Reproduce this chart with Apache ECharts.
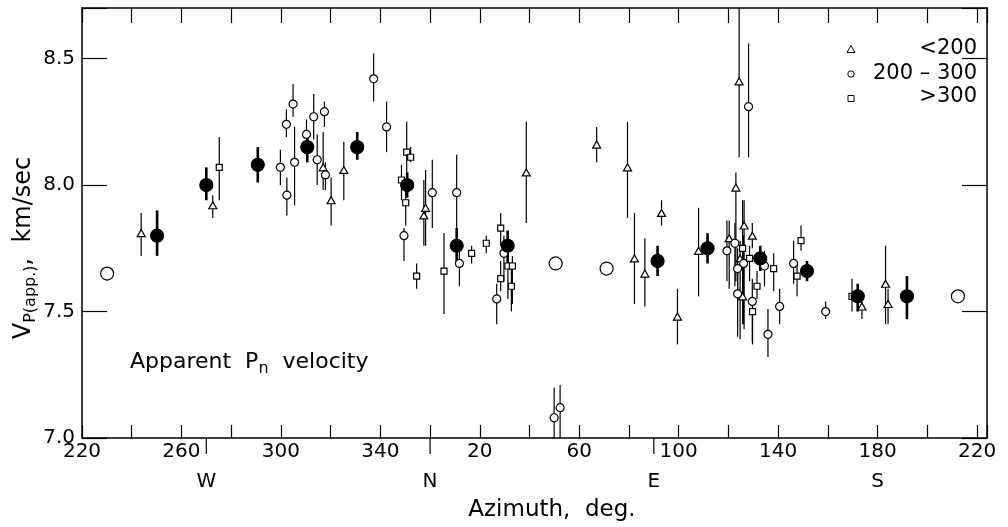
<!DOCTYPE html>
<html><head><meta charset="utf-8">
<script src="https://cdn.jsdelivr.net/npm/echarts@6/dist/echarts.min.js"></script>
<style>html,body{margin:0;padding:0;background:#fff}#c{width:1008px;height:527px}</style>
</head><body><div id="c"></div>
<script>
// ---- tick labels ----
const xLabelValues = [220, 260, 300, 340, 380, 420, 460, 500, 540, 580];
const xTickLabels = ['220', '260', '300', '340', '20', '60', '100', '140', '180', '220'];
const yTickValues = [7.0, 7.5, 8.0, 8.5];
const yTickLabels = ['7.0', '7.5', '8.0', '8.5'];
const compassAz = [270, 0, 90, 180];
const compassLabels = ['W', 'N', 'E', 'S'];
const legendLabels = ['<200', '200 – 300', '>300'];

// ---- data: [azimuth deg, velocity, low, high] ----
const averages = [
  [250.2, 7.80, 7.72, 7.90], [270.0, 8.00, 7.94, 8.07], [290.7, 8.08, 8.01, 8.15],
  [310.6, 8.15, 8.09, 8.21], [330.7, 8.15, 8.10, 8.21], [350.8, 8.00, 7.95, 8.05],
  [10.7, 7.76, 7.69, 7.83], [31.2, 7.76, 7.68, 7.82], [91.5, 7.70, 7.64, 7.76],
  [111.6, 7.75, 7.69, 7.81], [132.8, 7.71, 7.66, 7.76], [151.6, 7.66, 7.62, 7.70],
  [172.0, 7.56, 7.50, 7.61], [191.8, 7.56, 7.47, 7.64]
];
const singleAverages = [ [230.1, 7.65], [50.5, 7.69], [71.0, 7.67], [212.3, 7.56] ];
const distLt200 = [
  [243.8, 7.81, 7.72, 7.89], [272.6, 7.92, 7.87, 7.96], [317.0, 8.07, 7.98, 8.21],
  [320.2, 7.94, 7.84, 8.03], [325.3, 8.06, 7.94, 8.17], [358.2, 7.91, 7.76, 8.06],
  [357.5, 7.88, 7.76, 8.02], [38.7, 8.05, 7.85, 8.25], [67.0, 8.16, 8.09, 8.23],
  [79.4, 8.07, 7.87, 8.25], [82.2, 7.71, 7.53, 7.89], [86.4, 7.65, 7.52, 7.79],
  [93.1, 7.89, 7.84, 7.94], [99.5, 7.48, 7.37, 7.59], [108.0, 7.74, 7.56, 7.91],
  [124.3, 8.41, 8.11, 8.70], [123.0, 7.99, 7.62, 8.05], [120.3, 7.79, 7.59, 7.86],
  [126.3, 7.84, 7.43, 7.94], [129.6, 7.80, 7.75, 7.85], [124.7, 7.71, 7.39, 7.78],
  [125.7, 7.56, 7.45, 7.60], [173.7, 7.52, 7.47, 7.54], [183.2, 7.61, 7.45, 7.76],
  [184.2, 7.53, 7.45, 7.59]
];
const dist200to300 = [
  [299.8, 8.07, 8.00, 8.14], [302.2, 8.24, 8.19, 8.30], [302.4, 7.96, 7.88, 8.03],
  [304.9, 8.32, 8.27, 8.40], [305.5, 8.09, 7.92, 8.23], [310.3, 8.20, 8.15, 8.26],
  [313.2, 8.27, 8.18, 8.36], [317.5, 8.29, 8.23, 8.33], [314.6, 8.10, 8.00, 8.20],
  [317.9, 8.04, 7.98, 8.09], [337.3, 8.42, 8.33, 8.52], [342.5, 8.23, 8.13, 8.33],
  [349.5, 7.80, 7.70, 7.83], [0.9, 7.97, 7.83, 8.10], [10.7, 7.97, 7.83, 8.12],
  [11.8, 7.69, 7.60, 7.78], [26.8, 7.55, 7.45, 7.61], [29.7, 7.73, 7.62, 7.80],
  [49.9, 7.08, 7.00, 7.20], [52.3, 7.12, 7.00, 7.21], [128.1, 8.31, 8.11, 8.56],
  [119.4, 7.74, 7.62, 7.86], [122.6, 7.77, 7.60, 7.85], [126.1, 7.69, 7.45, 7.80],
  [123.7, 7.67, 7.55, 7.75], [134.5, 7.68, 7.60, 7.74], [123.7, 7.57, 7.40, 7.68],
  [129.6, 7.54, 7.38, 7.63], [140.6, 7.52, 7.45, 7.59], [135.9, 7.41, 7.32, 7.51],
  [146.2, 7.69, 7.61, 7.78], [159.1, 7.50, 7.47, 7.54]
];
const distGt300 = [
  [275.2, 8.07, 7.94, 8.19], [350.6, 8.13, 8.02, 8.25], [352.2, 8.11, 8.09, 8.15],
  [348.5, 8.02, 7.94, 8.08], [350.2, 7.93, 7.84, 7.98], [354.6, 7.64, 7.59, 7.69],
  [5.6, 7.66, 7.49, 7.81], [16.7, 7.73, 7.69, 7.76], [22.6, 7.77, 7.73, 7.80],
  [28.4, 7.83, 7.76, 7.89], [31.3, 7.68, 7.55, 7.74], [33.1, 7.68, 7.53, 7.72],
  [28.4, 7.63, 7.58, 7.70], [32.7, 7.60, 7.50, 7.67], [125.7, 7.75, 7.59, 7.94],
  [128.5, 7.71, 7.62, 7.76], [138.2, 7.67, 7.58, 7.73], [131.5, 7.60, 7.55, 7.66],
  [129.7, 7.50, 7.37, 7.55], [149.2, 7.78, 7.74, 7.84], [147.6, 7.64, 7.56, 7.70],
  [169.7, 7.56, 7.50, 7.63]
];

// ---- build ----
const FONT = 'DejaVu Sans';
const X0 = 220;
const toPlot = a => (a < X0 ? a + 360 : a);
const pts = arr => arr.map(d => [toPlot(d[0]), d[1]]);
const bars = arr => arr.map(d => [toPlot(d[0]), d[2], d[3]]);

function barSeries(arr, w) {
  return {
    type: 'custom', data: bars(arr), z: 1, clip: true, silent: true,
    encode: { x: 0, y: [1, 2] },
    renderItem: function (params, api) {
      const p1 = api.coord([api.value(0), api.value(1)]);
      const p2 = api.coord([api.value(0), api.value(2)]);
      return { type: 'line', shape: { x1: p1[0], y1: p1[1], x2: p2[0], y2: p2[1] },
        style: { stroke: '#000', lineWidth: w } };
    }
  };
}
function markSeries(name, arr, symbol, size, fill, z) {
  return {
    name: name, type: 'scatter', data: pts(arr), symbol: symbol, symbolSize: size, z: z,
    itemStyle: { color: fill, borderColor: '#000', borderWidth: 1.2, opacity: 1 },
    emphasis: { disabled: true }, silent: true
  };
}

const chart = echarts.init(document.getElementById('c'), null, { renderer: 'canvas' });
const option = {
  animation: false,
  backgroundColor: '#fff',
  grid: { left: 82, right: 21, top: 8, bottom: 89 },
  xAxis: [
    {
      type: 'value', min: 220, max: 584, interval: 20, position: 'bottom',
      axisLine: { lineStyle: { color: '#000', width: 1.5 } },
      axisTick: { inside: true, length: 13, lineStyle: { color: '#000', width: 1.2 } },
      axisLabel: {
        color: '#000', fontFamily: FONT, fontSize: 20, margin: 4,
        formatter: v => { const i = xLabelValues.indexOf(v); return i >= 0 ? xTickLabels[i] : ''; }
      },
      splitLine: { show: false }
    },
    {
      type: 'value', min: 220, max: 584, interval: 20, position: 'top',
      axisLine: { lineStyle: { color: '#000', width: 1.5 } },
      axisTick: { inside: true, length: 15, lineStyle: { color: '#000', width: 1.2 } },
      axisLabel: { show: false }, splitLine: { show: false }
    }
  ],
  yAxis: [
    {
      type: 'value', min: 7.0, max: 8.7, interval: 0.5, position: 'left',
      axisLine: { lineStyle: { color: '#000', width: 1.5 } },
      axisTick: { inside: true, length: 25, lineStyle: { color: '#000', width: 1.2 } },
      axisLabel: {
        color: '#000', fontFamily: FONT, fontSize: 20, margin: 7,
        formatter: v => { const i = yTickValues.findIndex(t => Math.abs(t - v) < 1e-6); return i >= 0 ? yTickLabels[i] : ''; }
      },
      splitLine: { show: false }
    },
    {
      type: 'value', min: 7.0, max: 8.7, interval: 0.5, position: 'right',
      axisLine: { lineStyle: { color: '#000', width: 1.5 } },
      axisTick: { inside: true, length: 25, lineStyle: { color: '#000', width: 1.2 } },
      axisLabel: { show: false }, splitLine: { show: false }
    }
  ],
  series: [
    barSeries(distLt200, 1.2),
    barSeries(dist200to300, 1.2),
    barSeries(distGt300, 1.2),
    barSeries(averages, 2.6),
    markSeries('<200', distLt200, 'triangle', [8, 7], '#fff', 3),
    markSeries('200-300', dist200to300, 'circle', 8, '#fff', 3),
    markSeries('>300', distGt300, 'rect', 6, '#fff', 3),
    markSeries('single', singleAverages, 'circle', 13, '#fff', 4),
    markSeries('average', averages, 'circle', 13, '#000', 5),
    {
      type: 'custom', clip: false, silent: true, z: 6,
      data: compassAz.map((a, i) => [toPlot(a), 7.0, i]),
      encode: { x: 0, y: 1 },
      renderItem: function (params, api) {
        const p = api.coord([api.value(0), api.value(1)]);
        const i = api.value(2);
        const ext = i === 3 ? 0 : 16;
        const children = [{
          type: 'text',
          style: { text: compassLabels[i], x: p[0], y: p[1] + 44, align: 'center', verticalAlign: 'middle',
            textAlign: 'center', textVerticalAlign: 'middle', fontFamily: FONT, fontSize: 20, fill: '#000' }
        }];
        if (ext > 0) children.push({ type: 'line', shape: { x1: p[0], y1: p[1], x2: p[0], y2: p[1] + ext },
          style: { stroke: '#000', lineWidth: 1.2 } });
        return { type: 'group', children: children };
      }
    }
  ],
  graphic: [
    { type: 'text', x: 552, y: 510, style: { text: 'Azimuth,  deg.', align: 'center', verticalAlign: 'middle',
        fontFamily: FONT, fontSize: 23, fill: '#000' } },
    { type: 'text', x: 24, y: 248, rotation: Math.PI / 2,
      style: { text: '{a|V}{s|P(app.)}{a|,  km/sec}', align: 'center', verticalAlign: 'middle', fill: '#000',
        rich: { a: { fontFamily: FONT, fontSize: 24, lineHeight: 30, fill: '#000' },
                s: { fontFamily: FONT, fontSize: 16, lineHeight: 14, verticalAlign: 'bottom', fill: '#000' } } } },
    { type: 'text', x: 130, y: 362,
      style: { text: '{a|Apparent  P}{s|n}{a|  velocity}', align: 'left', verticalAlign: 'middle', fill: '#000',
        rich: { a: { fontFamily: FONT, fontSize: 22, lineHeight: 30, fill: '#000' },
                s: { fontFamily: FONT, fontSize: 16, lineHeight: 14, verticalAlign: 'bottom', fill: '#000' } } } },
    { type: 'polygon', shape: { points: [[851, 45.5], [855, 52.5], [847, 52.5]] }, style: { fill: '#fff', stroke: '#000', lineWidth: 1 } },
    { type: 'circle', shape: { cx: 851, cy: 74, r: 3.2 }, style: { fill: '#fff', stroke: '#000', lineWidth: 1 } },
    { type: 'rect', shape: { x: 848, y: 95.5, width: 6, height: 6 }, style: { fill: '#fff', stroke: '#000', lineWidth: 1 } },
    { type: 'text', x: 977, y: 49, style: { text: legendLabels[0], align: 'right', verticalAlign: 'middle', fontFamily: FONT, fontSize: 21, fill: '#000' } },
    { type: 'text', x: 977, y: 74, style: { text: legendLabels[1], align: 'right', verticalAlign: 'middle', fontFamily: FONT, fontSize: 21, fill: '#000' } },
    { type: 'text', x: 977, y: 97, style: { text: legendLabels[2], align: 'right', verticalAlign: 'middle', fontFamily: FONT, fontSize: 21, fill: '#000' } }
  ]
};
chart.setOption(option);
</script>
</body></html>
